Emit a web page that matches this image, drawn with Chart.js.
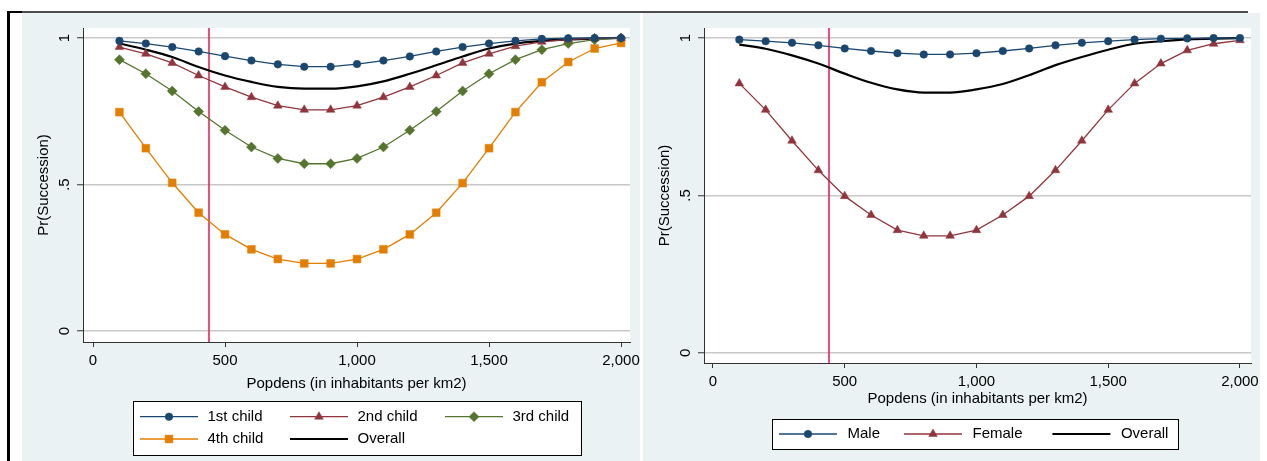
<!DOCTYPE html>
<html>
<head>
<meta charset="utf-8">
<title>Pr(Succession) by population density</title>
<script src="https://cdn.jsdelivr.net/npm/chart.js@4.4.1/dist/chart.umd.min.js"></script>
<style>
  html, body { margin: 0; padding: 0; background: #fff; width: 1267px; height: 461px; overflow: hidden; }
  .frame-top { position: absolute; left: 7px; top: 11px; width: 1241px; height: 2px; background: #4d4d4d; }
  .frame-left { position: absolute; left: 7px; top: 11px; width: 3px; height: 450px; background: #000; }
  .frame-corner { position: absolute; left: 7px; top: 11px; width: 15px; height: 2px; background: #000; }
  .panel { position: absolute; top: 13px; height: 448px; background: #eaf2f3; }
  #leftPanel { left: 22px; width: 618px; }
  #rightPanel { left: 643px; width: 617px; }
</style>
</head>
<body>
<div class="frame-top"></div>
<div class="frame-left"></div>
<div class="frame-corner"></div>
<div class="panel" id="leftPanel"><canvas id="leftChart" width="618" height="448"></canvas></div>
<div class="panel" id="rightPanel"><canvas id="rightChart" width="617" height="448"></canvas></div>

<script>
/* Predicted probability of succession by population density */

// x positions (population density)
const xValues = [100, 200, 300, 400, 500, 600, 700, 800, 900, 1000,
                 1100, 1200, 1300, 1400, 1500, 1600, 1700, 1800, 1900, 2000];

// left panel: by birth order
const firstChild  = [0.990, 0.981, 0.969, 0.954, 0.938, 0.923, 0.910, 0.902, 0.902, 0.911,
                     0.923, 0.937, 0.954, 0.969, 0.981, 0.990, 0.997, 0.999, 1.000, 1.000];
const secondChild = [0.969, 0.946, 0.915, 0.872, 0.833, 0.798, 0.769, 0.755, 0.755, 0.769,
                     0.798, 0.833, 0.872, 0.915, 0.946, 0.972, 0.987, 0.995, 0.999, 1.000];
const thirdChild  = [0.926, 0.878, 0.819, 0.749, 0.685, 0.628, 0.589, 0.571, 0.571, 0.589,
                     0.628, 0.685, 0.749, 0.819, 0.878, 0.926, 0.960, 0.981, 0.994, 1.000];
const fourthChild = [0.747, 0.624, 0.506, 0.404, 0.330, 0.279, 0.246, 0.231, 0.231, 0.246,
                     0.279, 0.330, 0.404, 0.505, 0.624, 0.747, 0.849, 0.918, 0.964, 0.983];
const overallLeft = [0.981, 0.960, 0.935, 0.901, 0.872, 0.850, 0.833, 0.827, 0.827, 0.835,
                     0.852, 0.878, 0.907, 0.937, 0.964, 0.981, 0.990, 0.995, 0.998, 1.000];

// right panel: by sex
const male        = [0.995, 0.990, 0.985, 0.977, 0.967, 0.959, 0.952, 0.948, 0.948, 0.952,
                     0.959, 0.967, 0.977, 0.985, 0.990, 0.995, 0.998, 0.999, 1.000, 1.000];
const female      = [0.856, 0.772, 0.674, 0.580, 0.498, 0.438, 0.390, 0.372, 0.372, 0.390,
                     0.438, 0.498, 0.580, 0.674, 0.772, 0.856, 0.919, 0.961, 0.982, 0.993];
const overallRight = [0.979, 0.966, 0.945, 0.919, 0.887, 0.858, 0.837, 0.827, 0.827, 0.837,
                      0.854, 0.882, 0.914, 0.940, 0.963, 0.982, 0.990, 0.996, 0.998, 1.000];

// axes
const xTicks = [0, 500, 1000, 1500, 2000];
const xTickLabels = ['0', '500', '1,000', '1,500', '2,000'];
const yTicks = [0, 0.5, 1];
const yTickLabels = ['0', '.5', '1'];
const cutoff = 440;
const xTitle = 'Popdens (in inhabitants per km2)';
const yTitle = 'Pr(Succession)';

const NAVY = '#1a476f';
const MAROON = '#90353b';
const GREEN = '#55752f';
const ORANGE = '#e37e00';
const FONT = { family: "'Liberation Sans', Arial, sans-serif", size: 15 };

Chart.defaults.font.family = FONT.family;
Chart.defaults.color = '#000';

function series(values) {
    return values.map((y, i) => ({ x: xValues[i], y: y }));
}

function markerSet(label, values, color, style, radius) {
    return {
        label: label,
        data: series(values),
        borderColor: color,
        backgroundColor: color,
        borderWidth: 1.3,
        pointStyle: style,
        pointRadius: radius,
        pointBorderWidth: 0.5,
        pointBackgroundColor: color,
        pointBorderColor: color,
        tension: 0
    };
}

function overallSet(values) {
    return {
        label: 'Overall',
        data: series(values),
        borderColor: '#000',
        backgroundColor: '#000',
        borderWidth: 2.2,
        pointRadius: 0,
        pointStyle: false,
        tension: 0.4,
        cubicInterpolationMode: 'monotone'
    };
}

// white plot region
const plotBg = {
    id: 'plotBg',
    beforeDraw(chart) {
        const { ctx, chartArea: a } = chart;
        ctx.save();
        ctx.fillStyle = '#fff';
        ctx.fillRect(a.left, a.top, a.right - a.left, a.bottom - a.top);
        ctx.restore();
    }
};

// vertical reference line
const cutoffLine = {
    id: 'cutoffLine',
    beforeDatasetsDraw(chart) {
        const { ctx, chartArea: a } = chart;
        const x = Math.round(chart.scales.x.getPixelForValue(cutoff));
        ctx.save();
        ctx.strokeStyle = '#e8245a';
        ctx.lineWidth = 1.6;
        ctx.beginPath();
        ctx.moveTo(x, a.top);
        ctx.lineTo(x, a.bottom);
        ctx.stroke();
        ctx.restore();
    }
};

// boxed legend below the axis title
const stataLegend = {
    id: 'stataLegend',
    afterDraw(chart, args, o) {
        const ctx = chart.ctx;
        ctx.save();
        ctx.fillStyle = '#fff';
        ctx.fillRect(o.left, o.top, o.width, o.height);
        ctx.strokeStyle = '#000';
        ctx.lineWidth = 1;
        ctx.strokeRect(Math.round(o.left) + 0.5, Math.round(o.top) + 0.5, Math.round(o.width), Math.round(o.height));
        chart.data.datasets.forEach((ds, i) => {
            const [dx, dy] = o.slots[i];
            const x0 = o.left + dx;
            const y = o.top + dy;
            ctx.strokeStyle = ds.borderColor;
            ctx.lineWidth = ds.borderWidth;
            ctx.beginPath();
            ctx.moveTo(x0, y);
            ctx.lineTo(x0 + o.sample, y);
            ctx.stroke();
            if (ds.pointRadius > 0) {
                ctx.fillStyle = ds.pointBackgroundColor;
                ctx.strokeStyle = ds.pointBorderColor;
                ctx.lineWidth = ds.pointBorderWidth;
                Chart.helpers.drawPoint(ctx, {
                    pointStyle: ds.pointStyle, radius: ds.pointRadius,
                    borderWidth: ds.pointBorderWidth, rotation: 0
                }, x0 + o.sample / 2, y);
            }
            ctx.fillStyle = '#000';
            ctx.font = FONT.size + 'px ' + FONT.family;
            ctx.textAlign = 'left';
            ctx.textBaseline = 'middle';
            ctx.fillText(ds.label, x0 + o.textGap, y);
        });
        ctx.restore();
    }
};

function makeChart(id, datasets, cfg) {
    return new Chart(document.getElementById(id), {
        type: 'line',
        data: { datasets: datasets },
        options: {
            responsive: false,
            animation: false,
            devicePixelRatio: 1,
            layout: { padding: { left: 0, top: 14, right: cfg.padRight, bottom: 0 } },
            plugins: {
                legend: { display: false },
                tooltip: { enabled: false },
                stataLegend: cfg.legend
            },
            scales: {
                x: {
                    type: 'linear',
                    min: cfg.xMin,
                    max: cfg.xMax,
                    afterBuildTicks: s => { s.ticks = xTicks.map(v => ({ value: v })); },
                    afterFit: s => { s.height = cfg.xAxisHeight; s.paddingLeft = 0; s.paddingRight = 0; },
                    grid: { drawOnChartArea: false, tickLength: 5, tickColor: '#333', tickWidth: 1 },
                    border: { color: '#333', width: 1 },
                    ticks: {
                        padding: 5, color: '#000', font: FONT, autoSkip: false,
                        maxRotation: 0, minRotation: 0,
                        callback: (v, i) => xTickLabels[i]
                    },
                    title: {
                        display: true, text: xTitle, color: '#000', font: FONT,
                        padding: { top: 0, bottom: cfg.xTitlePad }
                    }
                },
                y: {
                    type: 'linear',
                    min: cfg.yMin,
                    max: cfg.yMax,
                    afterBuildTicks: s => { s.ticks = yTicks.map(v => ({ value: v })); },
                    afterFit: s => { s.width = 61; },
                    grid: { color: '#c8c8c8', lineWidth: 1.5, tickLength: 6, tickColor: '#333', tickWidth: 1 },
                    border: { color: '#333', width: 1 },
                    ticks: {
                        padding: 6, color: '#000', font: FONT, autoSkip: false,
                        minRotation: 90, maxRotation: 90, crossAlign: 'center',
                        callback: (v, i) => yTickLabels[i]
                    },
                    title: {
                        display: true, text: yTitle, color: '#000', font: FONT,
                        padding: { top: 13, bottom: 0 }
                    }
                }
            }
        },
        plugins: [plotBg, cutoffLine, stataLegend]
    });
}

makeChart('leftChart', [
    markerSet('1st child', firstChild, NAVY, 'circle', 3.8),
    markerSet('2nd child', secondChild, MAROON, 'triangle', 5),
    markerSet('3rd child', thirdChild, GREEN, 'rectRot', 5),
    markerSet('4th child', fourthChild, ORANGE, 'rect', 5.5),
    overallSet(overallLeft)
], {
    padRight: 10, xMin: -38, xMax: 2034, yMin: -0.037, yMax: 1.034,
    xAxisHeight: 119, xTitlePad: 68,
    legend: {
        left: 110.7, top: 388, width: 448, height: 54, sample: 58, textGap: 67.5,
        slots: [[7.3, 15.7], [157.3, 15.7], [312.3, 15.7], [7.3, 38], [157.3, 38]]
    }
});

makeChart('rightChart', [
    markerSet('Male', male, NAVY, 'circle', 3.8),
    markerSet('Female', female, MAROON, 'triangle', 5),
    overallSet(overallRight)
], {
    padRight: 9, xMin: -34, xMax: 2042, yMin: -0.032, yMax: 1.032,
    xAxisHeight: 98, xTitlePad: 53,
    legend: {
        left: 128.7, top: 406.3, width: 406, height: 30, sample: 58, textGap: 68.5,
        slots: [[7.3, 14.7], [132.3, 14.7], [280.7, 14.7]]
    }
});
</script>
</body>
</html>
